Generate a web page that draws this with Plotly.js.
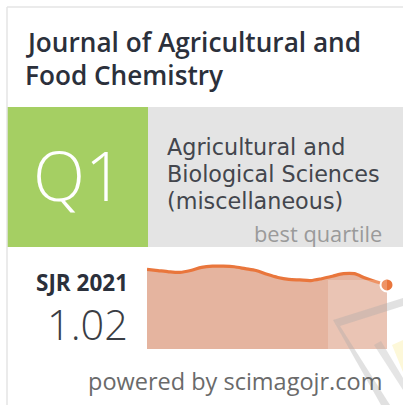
<!DOCTYPE html>
<html>
<head>
<meta charset="utf-8">
<script src="https://cdn.plot.ly/plotly-3.0.1.min.js"></script>
<style>
html,body{margin:0;padding:0;background:#fff;overflow:hidden;}
#chart{width:403px;height:405px;}
</style>
</head>
<body>
<div id="chart"></div>
<script>
// ---- data ----
var journalTitle = ["Journal of Agricultural and", "Food Chemistry"];
var quartile = "Q1";
var categoryLines = ["Agricultural and", "Biological Sciences", "(miscellaneous)"];
var quartileCaption = "best quartile";
var sjrLabel = "SJR 2021";
var sjrValueText = "1.02";
var footerText = "powered by scimagojr.com";

var years = [1999,2000,2001,2002,2003,2004,2005,2006,2007,2008,2009,2010,
             2011,2012,2013,2014,2015,2016,2017,2018,2019,2020,2021];
var sjr = [1.27,1.25,1.23,1.22,1.25,1.30,1.32,1.32,1.31,1.28,1.25,1.19,
           1.14,1.11,1.10,1.09,1.12,1.16,1.20,1.20,1.13,1.07,1.02];

// ---- layout helpers (pixel -> paper) ----
var W = 403, H = 405;
function px(x){ return x / W; }
function py(y){ return 1 - y / H; }

var FONT = "Open Sans, Noto Sans, DejaVu Sans, sans-serif";
var CAT_FONT = "DejaVu Sans, Open Sans, sans-serif";

var lastIdx = years.length - 1;

var traces = [
  {
    x: years, y: sjr, type: 'scatter', mode: 'lines',
    line: {color: '#e9763c', width: 3.2, shape: 'spline', smoothing: 0.8},
    fill: 'tozeroy', fillcolor: '#e5b49f',
    hoverinfo: 'skip', showlegend: false, cliponaxis: false
  },
  {
    x: [years[lastIdx]], y: [sjr[lastIdx]], type: 'scatter', mode: 'markers',
    marker: {color: '#e9763c', size: 13, line: {color: '#ffffff', width: 2}},
    hoverinfo: 'skip', showlegend: false, cliponaxis: false
  }
];

function ann(text, x, y, size, color, anchor, weight, family){
  return {
    text: text, xref: 'paper', yref: 'paper', x: px(x), y: py(y),
    xanchor: anchor || 'left', yanchor: 'middle', showarrow: false,
    borderpad: 0, borderwidth: 0,
    font: {family: family || FONT, size: size, color: color, weight: weight || 400}
  };
}

var annotations = [
  ann(journalTitle[0], 25, 42, 26.2, '#2b303b', 'left', 600),
  ann(journalTitle[1], 25, 75, 26.2, '#2b303b', 'left', 600),
  ann(quartile, 78, 175, 68, '#ffffff', 'center', 300),
  ann(categoryLines[0], 167, 147, 22.3, '#43464d', 'left', 400, CAT_FONT),
  ann(categoryLines[1], 167, 174, 22.3, '#43464d', 'left', 400, CAT_FONT),
  ann(categoryLines[2], 167, 201, 22.3, '#43464d', 'left', 400, CAT_FONT),
  ann(quartileCaption, 382, 234, 21.8, '#9a9a9a', 'right'),
  ann(sjrLabel, 128, 282, 22.5, '#2b303b', 'right', 700),
  ann(sjrValueText, 128, 324, 41.5, '#3a3d44', 'right', 300),
  ann(footerText, 382, 381, 23.5, '#6a6a6a', 'right')
];

var shapes = [
  // card borders
  {type:'line', xref:'paper', yref:'paper', x0:px(7), x1:px(403), y0:py(7), y1:py(7), line:{color:'#e4e4e4', width:1.5}},
  {type:'line', xref:'paper', yref:'paper', x0:px(7), x1:px(7), y0:py(7), y1:py(405), line:{color:'#e4e4e4', width:1.5}},
  // quartile boxes
  {type:'rect', xref:'paper', yref:'paper', x0:px(7), x1:px(148), y0:py(107), y1:py(247), fillcolor:'#a5cf63', line:{width:0}, layer:'below'},
  {type:'rect', xref:'paper', yref:'paper', x0:px(148), x1:px(403), y0:py(107), y1:py(247), fillcolor:'#e4e4e4', line:{width:0}, layer:'below'},
  // light translucent panel over the recent years
  {type:'rect', xref:'paper', yref:'paper', x0:px(328), x1:px(387), y0:py(350), y1:py(280), fillcolor:'rgba(255,255,255,0.22)', line:{width:0}, layer:'above'},
  // faint watermark bands
  {type:'path', xref:'paper', yref:'paper',
   path: 'M'+px(333)+','+py(320)+' L'+px(403)+','+py(298)+' L'+px(403)+','+py(306)+' L'+px(340)+','+py(326)+' Z',
   fillcolor:'rgba(170,170,170,0.35)', line:{width:0}},
  {type:'path', xref:'paper', yref:'paper',
   path: 'M'+px(333)+','+py(320)+' L'+px(340)+','+py(326)+' L'+px(390)+','+py(405)+' L'+px(381)+','+py(405)+' Z',
   fillcolor:'rgba(170,170,170,0.35)', line:{width:0}},
  {type:'path', xref:'paper', yref:'paper',
   path: 'M'+px(374)+','+py(345)+' L'+px(381)+','+py(341)+' L'+px(403)+','+py(378)+' L'+px(403)+','+py(390)+' Z',
   fillcolor:'rgba(170,170,170,0.3)', line:{width:0}},
  {type:'path', xref:'paper', yref:'paper',
   path: 'M'+px(392)+','+py(345)+' L'+px(403)+','+py(340)+' L'+px(403)+','+py(372)+' Z',
   fillcolor:'rgba(250,240,170,0.45)', line:{width:0}}
];

var layout = {
  width: W, height: H,
  margin: {l:0, r:0, t:0, b:0, pad:0},
  paper_bgcolor: '#ffffff', plot_bgcolor: 'rgba(0,0,0,0)',
  showlegend: false,
  xaxis: {domain:[px(147), px(387)], range:[years[0], years[lastIdx]],
          visible:false, fixedrange:true},
  yaxis: {domain:[py(349), py(262)], range:[0, 1.386],
          visible:false, fixedrange:true},
  annotations: annotations,
  shapes: shapes
};

Plotly.newPlot('chart', traces, layout, {displayModeBar:false, staticPlot:true});
</script>
</body>
</html>
